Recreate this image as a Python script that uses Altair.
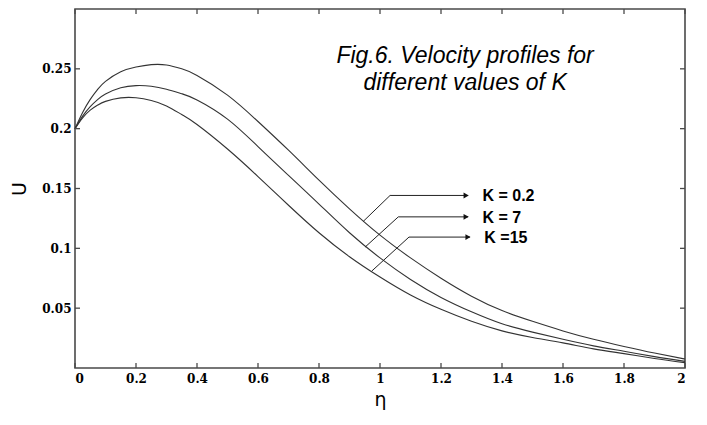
import altair as alt
import pandas as pd

# ---- data ----
eta = [0, 0.025, 0.05, 0.075, 0.1, 0.15, 0.2, 0.25, 0.3, 0.35, 0.4, 0.5, 0.6, 0.7, 0.8,
       0.9, 1.0, 1.1, 1.2, 1.3, 1.4, 1.5, 1.6, 1.7, 1.8, 1.9, 2.0]
u_k02 = [0.2, 0.2135, 0.2245, 0.233, 0.2395, 0.2475, 0.2515, 0.2535, 0.2532, 0.250,
         0.2445, 0.228, 0.206, 0.182, 0.157, 0.133, 0.111, 0.092, 0.075, 0.060,
         0.048, 0.039, 0.031, 0.024, 0.018, 0.0125, 0.0075]
u_k7 = [0.2, 0.2105, 0.2185, 0.2245, 0.229, 0.2342, 0.236, 0.2355, 0.233, 0.2292,
        0.224, 0.208, 0.185, 0.161, 0.137, 0.113, 0.092, 0.074, 0.059, 0.047,
        0.037, 0.030, 0.024, 0.0185, 0.014, 0.0095, 0.0055]
u_k15 = [0.2, 0.209, 0.2155, 0.2198, 0.2228, 0.2257, 0.2258, 0.2235, 0.219, 0.2118,
         0.2035, 0.183, 0.160, 0.136, 0.113, 0.093, 0.076, 0.061, 0.049, 0.039,
         0.031, 0.0255, 0.021, 0.016, 0.012, 0.008, 0.0045]
k_labels = ["K = 0.2", "K = 7", "K =15"]

x_ticks = [0, 0.2, 0.4, 0.6, 0.8, 1.0, 1.2, 1.4, 1.6, 1.8, 2.0]
y_ticks = [0.05, 0.1, 0.15, 0.2, 0.25]

# annotation anchors (data coordinates)
lead_eta_start = [0.945, 0.951, 0.973]
lead_u_start = [0.1225, 0.1010, 0.0810]
lead_eta_corner = [1.033, 1.060, 1.095]
lead_u_level = [0.1442, 0.1263, 0.1094]
lead_eta_tip = [1.289, 1.289, 1.295]
label_eta = [1.336, 1.336, 1.342]

title_text = "Fig.6. Velocity profiles for\ndifferent values of K"
title_eta = 1.279
title_u = 0.2549

# ---- tables ----
rows = []
for k, us in zip(k_labels, [u_k02, u_k7, u_k15]):
    for e, u in zip(eta, us):
        rows.append({"K": k, "eta": e, "U": u})
curves = pd.DataFrame(rows)

lead_rows = []
for i, k in enumerate(k_labels):
    lead_rows.append({"K": k, "seq": 0, "eta": lead_eta_start[i], "U": lead_u_start[i]})
    lead_rows.append({"K": k, "seq": 1, "eta": lead_eta_corner[i], "U": lead_u_level[i]})
    lead_rows.append({"K": k, "seq": 2, "eta": lead_eta_tip[i], "U": lead_u_level[i]})
leaders = pd.DataFrame(lead_rows)
tips = pd.DataFrame({"K": k_labels, "eta": lead_eta_tip, "U": lead_u_level})
labels = pd.DataFrame({"K": k_labels, "eta": label_eta, "U": lead_u_level})
title_df = pd.DataFrame({"eta": [title_eta], "U": [title_u], "txt": [title_text]})
xt = pd.DataFrame({"eta": x_ticks})
yt = pd.DataFrame({"U": y_ticks})

W, H = 610, 359
FRAME = "#4a4a4a"

xscale = alt.Scale(domain=[0, 2], nice=False, zero=False)
yscale = alt.Scale(domain=[0, 0.3], nice=False, zero=False)
xaxis = alt.Axis(values=x_ticks, format="~g", title="η", grid=False, ticks=False,
                 domain=False, labelFont="DejaVu Serif", labelFontWeight="bold",
                 labelFontSize=12, labelColor="black", labelPadding=5,
                 titleFont="DejaVu Sans", titleFontWeight="normal", titleFontSize=19,
                 titleColor="black", titleY=37, titleBaseline="alphabetic")
yaxis = alt.Axis(values=y_ticks, format="~g", title="U", grid=False, ticks=False,
                 domain=False, labelFont="DejaVu Serif", labelFontWeight="bold",
                 labelFontSize=12, labelColor="black", labelPadding=4,
                 titleFont="DejaVu Sans", titleFontWeight="normal", titleFontSize=19,
                 titleColor="black", titleX=-56, titleY=H / 2, titleBaseline="middle",
                 titleAlign="center", titleAngle=-90)


def X(field="eta"):
    return alt.X(f"{field}:Q", scale=xscale, axis=xaxis)


def Y(field="U"):
    return alt.Y(f"{field}:Q", scale=yscale, axis=yaxis)


lines = alt.Chart(curves).mark_line(color="#333333", strokeWidth=1.1,
                                    interpolate="natural").encode(
    x=X(), y=Y(), detail="K:N")

tick_bottom = alt.Chart(xt).mark_rule(color=FRAME, strokeWidth=1.3).encode(
    x=X(), y=alt.value(H), y2=alt.value(H - 5))
tick_top = alt.Chart(xt).mark_rule(color=FRAME, strokeWidth=1.3).encode(
    x=X(), y=alt.value(0), y2=alt.value(5))
tick_left = alt.Chart(yt).mark_rule(color=FRAME, strokeWidth=1.3).encode(
    y=Y(), x=alt.value(0), x2=alt.value(5))
tick_right = alt.Chart(yt).mark_rule(color=FRAME, strokeWidth=1.3).encode(
    y=Y(), x=alt.value(W), x2=alt.value(W - 5))

lead = alt.Chart(leaders).mark_line(color="#222222", strokeWidth=1).encode(
    x=X(), y=Y(), detail="K:N", order="seq:Q")
heads = alt.Chart(tips).mark_point(shape="triangle-right", filled=True, size=35,
                                   color="#111111", opacity=1, xOffset=-2).encode(
    x=X(), y=Y())
klab = alt.Chart(labels).mark_text(align="left", baseline="middle", font="Liberation Sans",
                                   fontWeight="bold", fontSize=16, color="black",
                                   dy=1).encode(
    x=X(), y=Y(), text="K:N")
ttl = alt.Chart(title_df).mark_text(align="center", baseline="alphabetic",
                                    font="Liberation Sans", fontStyle="italic",
                                    fontSize=23, lineHeight=27, lineBreak="\n",
                                    color="black").encode(
    x=X(), y=Y(), text="txt:N")

chart = alt.layer(lines, tick_bottom, tick_top, tick_left, tick_right,
                  lead, heads, klab, ttl).properties(
    width=W, height=H,
    autosize=alt.AutoSizeParams(type="none"),
    padding={"left": 67, "top": 1, "right": 14, "bottom": 45},
    background="white",
).configure_view(stroke=FRAME, strokeWidth=1.6)

chart.save("out.html", embed_options={"renderer": "svg", "actions": False})
